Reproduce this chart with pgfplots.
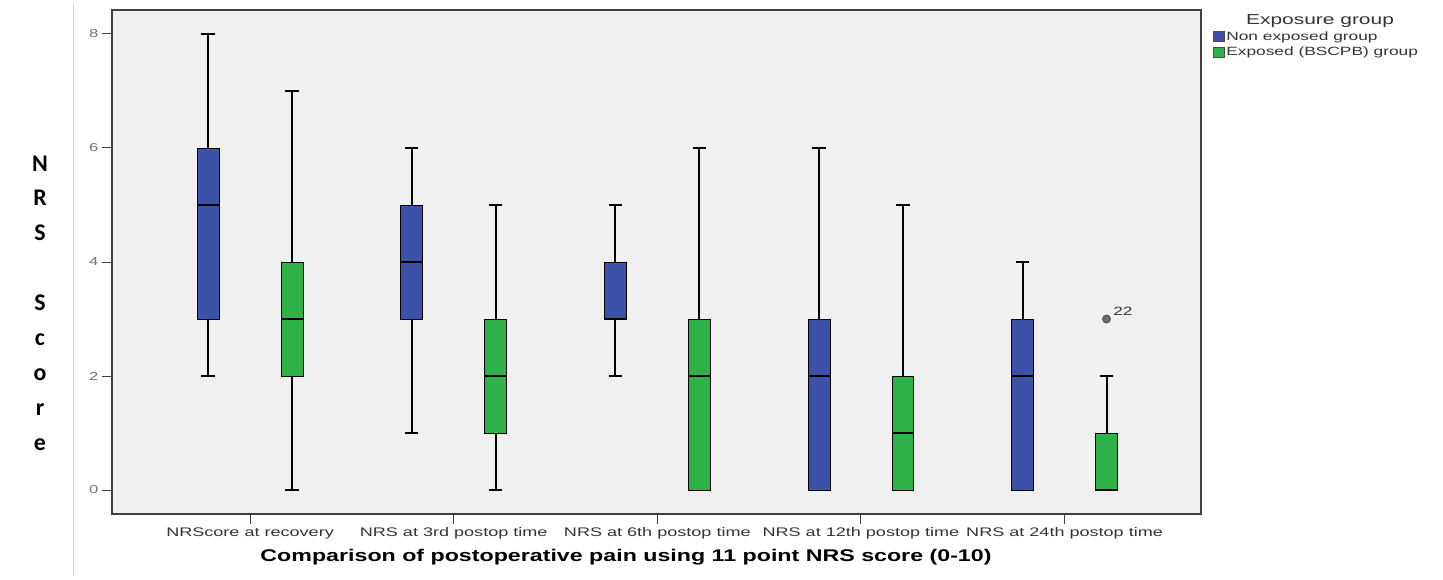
\documentclass[border=0pt]{standalone}
\usepackage{pgfplots}
\pgfplotsset{compat=1.18}
\usepgfplotslibrary{statistics}
\usepackage{fontspec}
\usepackage{graphicx}
\setmainfont{Liberation Sans}
\newfontfamily\carlito{Carlito}
\definecolor{bluec}{RGB}{60,82,168}
\definecolor{greenc}{RGB}{46,178,72}
\definecolor{bgc}{RGB}{240,240,240}
\definecolor{outc}{RGB}{95,115,105}
\newcommand\sx[1]{\scalebox{1.45}[1]{#1}}
\pgfplotsset{
  boxplot/draw direction=y,
  boxplot/every whisker/.style={line width=2bp},
  boxplot/every median/.style={line width=2.4bp},
}
\begin{document}
\begin{tikzpicture}
\useasboundingbox (0,0) rectangle (1443bp,580bp);
\draw[gray!35, line width=1bp] (73bp,4bp) -- (73bp,576bp);
\begin{axis}[
  at={(112bp,66bp)}, anchor=south west,
  scale only axis, width=1089bp, height=504bp,
  xmin=-0.678, xmax=4.67, ymin=-0.42, ymax=8.42,
  axis background/.style={fill=bgc},
  axis line style={draw=black!75, line width=1.2bp},
  tick pos=left, tick align=outside,
  major tick length=10bp,
  tick style={black!75, line width=1bp},
  xtick={0,1,2,3,4},
  xticklabels={\sx{NRScore at recovery},\sx{NRS at 3rd postop time},\sx{NRS at 6th postop time},\sx{NRS at 12th postop time},\sx{NRS at 24th postop time}},
  xticklabel style={font=\fontsize{12.5}{14}\selectfont, text=black!80},
  ytick={0,2,4,6,8},
  yticklabels={\sx{0},\sx{2},\sx{4},\sx{6},\sx{8}},
  yticklabel style={font=\fontsize{11.5}{13}\selectfont, text=black!55},
  legend style={at={(1,1)}, anchor=north west, xshift=12bp, yshift=-20bp,
    draw=none, fill=none, inner sep=0pt, row sep=2bp,
    font=\fontsize{12}{13}\selectfont, text=black!80,
    nodes={inner sep=1.5bp}},
  legend cell align=left,
]
\addlegendimage{legend image code/.code={\draw[fill=bluec, draw=black!70, line width=0.6bp] (0bp,-5bp) rectangle (11bp,5bp);}}
\addlegendentry{\sx{Non exposed group}}
\addlegendimage{legend image code/.code={\draw[fill=greenc, draw=black!70, line width=0.6bp] (0bp,-5bp) rectangle (11bp,5bp);}}
\addlegendentry{\sx{Exposed (BSCPB) group}}

% NRScore at recovery
\addplot[boxplot prepared={draw position=-0.206, lower whisker=2, lower quartile=3, median=5, upper quartile=6, upper whisker=8, box extend=0.108, whisker extend=0.065}, draw=black, fill=bluec, line width=0.8bp] coordinates {};
\addplot[boxplot prepared={draw position=0.206, lower whisker=0, lower quartile=2, median=3, upper quartile=4, upper whisker=7, box extend=0.108, whisker extend=0.065}, draw=black, fill=greenc, line width=0.8bp] coordinates {};
% 3rd
\addplot[boxplot prepared={draw position=0.794, lower whisker=1, lower quartile=3, median=4, upper quartile=5, upper whisker=6, box extend=0.108, whisker extend=0.065}, draw=black, fill=bluec, line width=0.8bp] coordinates {};
\addplot[boxplot prepared={draw position=1.206, lower whisker=0, lower quartile=1, median=2, upper quartile=3, upper whisker=5, box extend=0.108, whisker extend=0.065}, draw=black, fill=greenc, line width=0.8bp] coordinates {};
% 6th
\addplot[boxplot prepared={draw position=1.794, lower whisker=2, lower quartile=3, median=3, upper quartile=4, upper whisker=5, box extend=0.108, whisker extend=0.065}, draw=black, fill=bluec, line width=0.8bp] coordinates {};
\addplot[boxplot prepared={draw position=2.206, lower whisker=0, lower quartile=0, median=2, upper quartile=3, upper whisker=6, box extend=0.108, whisker extend=0.065}, draw=black, fill=greenc, line width=0.8bp] coordinates {};
% 12th
\addplot[boxplot prepared={draw position=2.794, lower whisker=0, lower quartile=0, median=2, upper quartile=3, upper whisker=6, box extend=0.108, whisker extend=0.065}, draw=black, fill=bluec, line width=0.8bp] coordinates {};
\addplot[boxplot prepared={draw position=3.206, lower whisker=0, lower quartile=0, median=1, upper quartile=2, upper whisker=5, box extend=0.108, whisker extend=0.065}, draw=black, fill=greenc, line width=0.8bp] coordinates {};
% 24th
\addplot[boxplot prepared={draw position=3.794, lower whisker=0, lower quartile=0, median=2, upper quartile=3, upper whisker=4, box extend=0.108, whisker extend=0.065}, draw=black, fill=bluec, line width=0.8bp] coordinates {};
\addplot[boxplot prepared={draw position=4.206, lower whisker=0, lower quartile=0, median=0, upper quartile=1, upper whisker=2, box extend=0.108, whisker extend=0.065}, draw=black, fill=greenc, line width=0.8bp] coordinates {};
% outlier
\addplot[only marks, mark=*, mark size=4bp, mark options={fill=outc, draw=black!70, line width=0.8bp},
  nodes near coords={\sx{22}},
  every node near coord/.style={anchor=south west, xshift=3bp, yshift=0bp, font=\fontsize{12}{13}\selectfont, text=black!80}]
  coordinates {(4.206,3)};
\end{axis}
\node[font=\bfseries\fontsize{17}{19}\selectfont] at (626bp,23bp) {\scalebox{1.37}[1]{Comparison of postoperative pain using 11 point NRS score (0-10)}};
\node[font=\fontsize{14.5}{16}\selectfont, text=black!80] at (1320bp,559bp) {\sx{Exposure group}};
\node[font=\carlito\bfseries\fontsize{24}{35}\selectfont, align=center] at (40bp,277bp) {N\\R\\S\\[35bp]S\\c\\o\\r\\e};
\end{tikzpicture}
\end{document}
